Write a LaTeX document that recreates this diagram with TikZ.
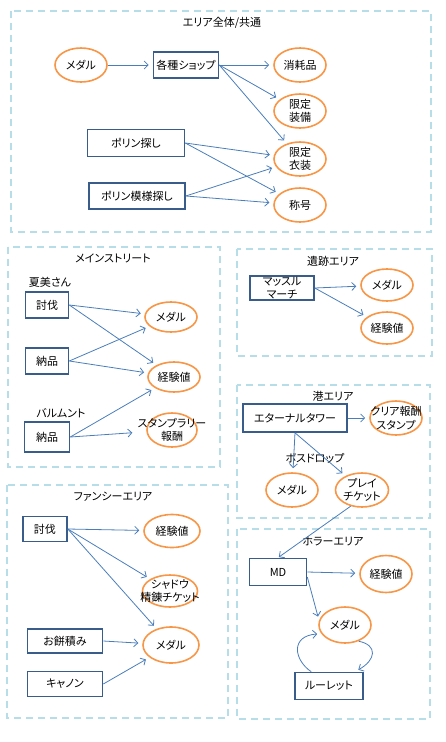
\documentclass[tikz,border=0pt]{standalone}
\usepackage{fontspec}
\setmainfont{Noto Sans CJK JP}[RawFeature=+palt]
\usetikzlibrary{arrows.meta,shapes.geometric}
\definecolor{zoneblue}{HTML}{B7DDE8}
\definecolor{boxblue}{HTML}{385D8A}
\definecolor{rewardorange}{HTML}{F79646}
\definecolor{flowblue}{HTML}{4A7EBB}
\begin{document}
\begin{tikzpicture}[x=1pt,y=-1pt,
  font=\fontsize{11}{13.5}\selectfont,
  zonebox/.style={draw=zoneblue,line width=1.6pt,dash pattern=on 7pt off 5pt},
  itembox/.style={draw=boxblue,line width=1.6pt,minimum height=26pt,inner sep=0pt,align=center},
  reward/.style={ellipse,draw=rewardorange,line width=1.6pt,minimum width=52pt,minimum height=34pt,inner sep=0pt,align=center},
  flowarrow/.style={draw=flowblue,line width=0.8pt,-{Straight Barb[length=4pt,width=8pt]},shorten >=4pt}]
  \useasboundingbox (0,0) rectangle (446,742);
    % Bereiche
  \draw[zonebox] (11,11) rectangle (431,232);
  \draw[zonebox] (8,247) rectangle (220,467);
  \draw[zonebox] (237,249) rectangle (432,356);
  \draw[zonebox] (237,385) rectangle (430,518);
  \draw[zonebox] (7,485) rectangle (228,718);
  \draw[zonebox] (237,529) rectangle (430,719);
  \node (commontitle) at (222,23) {エリア全体/共通};
  \node (maintitle) at (113,258) {メインストリート};
  \node (ruintitle) at (333,261) {遺跡エリア};
  \node (porttitle) at (333,396) {港エリア};
  \node (fancytitle) at (113,497) {ファンシーエリア};
  \node (horrortitle) at (333,541) {ホラーエリア};
    % Gesamt
  \node[reward] (cmedal) at (81,65) {メダル};
  \node[itembox,minimum width=65pt] (shop) at (186,65) {各種ショップ};
  \node[reward] (consum) at (300,65) {消耗品};
  \node[reward] (equip) at (300,111) {限定\\装備};
  \node[reward] (costume) at (300,159) {限定\\衣装};
  \node[reward] (rank) at (300,205) {称号};
  \node[itembox,minimum width=97pt,minimum height=27pt] (poring) at (136,143) {ポリン探し};
  \node[itembox,minimum width=96pt] (pattern) at (137,196) {ポリン模様探し};
  \draw[flowarrow] (cmedal) -- (shop);
  \draw[flowarrow] (shop.east) -- (consum);
  \draw[flowarrow] (shop.east) -- (equip);
  \draw[flowarrow] (shop.east) -- (costume);
  \draw[flowarrow] (poring.east) -- (costume);
  \draw[flowarrow] (poring.east) -- (rank);
  \draw[flowarrow] (pattern.east) -- (costume);
  \draw[flowarrow] (pattern.east) -- (rank);
    % Mainstreet
  \node (natsumi) at (50,282) {夏美さん};
  \node[itembox,minimum width=43pt] (msubdue) at (47,305) {討伐};
  \node[itembox,minimum width=43pt] (mdeliver) at (47,361) {納品};
  \node (balmunt) at (61,413) {バルムント};
  \node[itembox,minimum width=45pt,minimum height=30pt] (bdeliver) at (47,437) {納品};
  \node[reward,minimum height=30pt] (mmedal) at (171,317) {メダル};
  \node[reward,minimum height=30pt] (mexp) at (174,377) {経験値};
  \node[reward,minimum width=50pt] (stamp) at (172,430) {};
  \node[align=center] (stamptext) at (stamp) {スタンプラリー\\報酬};
  \draw[flowarrow] (msubdue.east) -- (mmedal);
  \draw[flowarrow] (msubdue.east) -- (mexp);
  \draw[flowarrow] (mdeliver.east) -- (mmedal);
  \draw[flowarrow] (mdeliver.east) -- (mexp);
  \draw[flowarrow] (bdeliver.east) -- (mexp);
  \draw[flowarrow,shorten >=14pt] (bdeliver.east) -- (stamp);
    % Ruinen
  \node[itembox,minimum width=64pt,minimum height=24pt] (muscle) at (282,288) {マッスル\\マーチ};
  \node[reward,minimum height=32pt] (rmedal) at (387,285) {メダル};
  \node[reward,minimum height=32pt] (rexp) at (387,328) {経験値};
  \draw[flowarrow] (muscle.east) -- (rmedal);
  \draw[flowarrow] (muscle.east) -- (rexp);
    % Hafen
  \node[itembox,minimum width=104pt,minimum height=28pt] (tower) at (295,418) {エターナルタワー};
  \node[reward] (clear) at (396,418) {};
  \node[align=center] (cleartext) at (clear) {クリア報酬\\スタンプ};
  \node (bossdrop) at (315,458) {ボスドロップ};
  \node[reward] (pmedal) at (292,490) {メダル};
  \node[reward] (ticket) at (362,490) {プレイ\\チケット};
  \draw[flowarrow] (tower.east) -- (clear);
  \draw[flowarrow] (tower.south) -- (pmedal);
  \draw[flowarrow] (tower.south) -- (ticket);
    % Horror
  \node[itembox,minimum width=57pt,minimum height=27pt] (md) at (278,572) {MD};
  \node[reward,minimum height=37pt] (hexp) at (386,574) {経験値};
  \node[reward,minimum height=36pt] (hmedal) at (345,625) {メダル};
  \node[itembox,minimum width=68pt,minimum height=27pt] (roulette) at (329,686) {ルーレット};
  \draw[flowarrow,shorten >=1pt] (ticket.235) -- (md.north);
  \draw[flowarrow] (md.east) -- (hexp);
  \draw[flowarrow] ([yshift=-5pt]md.east) -- (hmedal.170);
  \draw[flowarrow] ([xshift=17pt]roulette.north west) .. controls (294,660) and (290,636) .. (hmedal.200);
  \draw[flowarrow] (hmedal.-50) .. controls (378,645) and (376,660) .. ([xshift=-9pt]roulette.north east);
    % Fancy
  \node[itembox,minimum width=44pt,minimum height=25pt] (fsubdue) at (45,529) {討伐};
  \node[reward,minimum width=56pt,minimum height=33pt] (fexp) at (172,531) {経験値};
  \node[reward,minimum width=55pt,minimum height=32pt] (shadow) at (170,591) {};
  \node[align=center] (shadowtext) at (shadow) {シャドウ\\精錬チケット};
  \node[reward,minimum width=56pt,minimum height=36pt] (fmedal) at (171,645) {メダル};
  \node[itembox,minimum width=75pt,minimum height=24pt] (mochi) at (65,641) {お餅積み};
  \node[itembox,minimum width=75pt,minimum height=25pt] (cannon) at (65,684) {キャノン};
  \draw[flowarrow] (fsubdue.east) -- (fexp);
  \draw[flowarrow] (fsubdue.east) -- (shadow);
  \draw[flowarrow] (fsubdue.east) -- (fmedal);
  \draw[flowarrow] (mochi.east) -- (fmedal);
  \draw[flowarrow] (cannon.east) -- (fmedal);
\end{tikzpicture}
\end{document}
